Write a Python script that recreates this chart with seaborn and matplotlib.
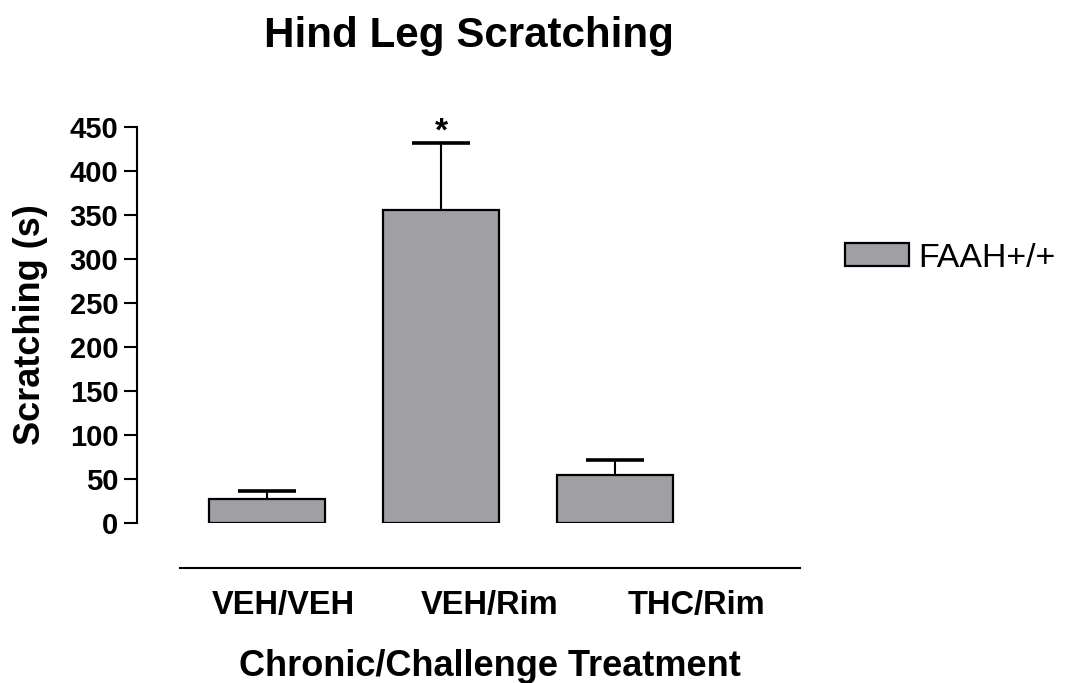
import matplotlib
matplotlib.use("Agg")
import matplotlib.pyplot as plt
import seaborn as sns
import pandas as pd

# ---- data ----
categories = ["VEH/VEH", "VEH/Rim", "THC/Rim"]
means = [27.5, 355.5, 54.8]
sem = [9.5, 75.7, 16.7]
genotype = "FAAH+/+"
y_ticks = [0, 50, 100, 150, 200, 250, 300, 350, 400, 450]

title = "Hind Leg Scratching"
xlabel = "Chronic/Challenge Treatment"
ylabel = "Scratching (s)"

sns.set_style("white")
plt.rcParams['font.family'] = ['Liberation Sans', 'DejaVu Sans']
plt.rcParams['font.weight'] = 'bold'
for k in ['text.color', 'axes.labelcolor', 'xtick.color', 'ytick.color']:
    plt.rcParams[k] = 'black'

W, H = 1069, 683
dpi = 100
fig = plt.figure(figsize=(W / dpi, H / dpi), dpi=dpi)
ax = fig.add_axes([180 / W, (H - 523.3) / H, 620 / W, (523.3 - 126.7) / H])

df = pd.DataFrame({"cat": categories, "val": means, "grp": [genotype] * len(categories)})
bar_color = "#A09FA4"
sns.barplot(data=df, x="cat", y="val", hue="grp", palette=[bar_color], dodge=False,
            width=0.667, edgecolor="black", linewidth=1.6, errorbar=None, ax=ax,
            saturation=1, zorder=2)

xs = list(range(len(categories)))
eb = ax.errorbar(xs, means, yerr=[[0] * len(sem), sem], fmt="none", ecolor="black",
                 elinewidth=1.5, capsize=21, capthick=2.6, zorder=1)
# keep only the upper caps
eb[1][0].remove()

# significance star
ax.annotate("*", xy=(1, means[1] + sem[1]), xytext=(0, 2), textcoords="offset points",
            ha="center", va="baseline", fontsize=24, fontweight="bold")

x0, x1 = -0.5, -0.5 + 620 / 174
ax.set_xlim(x0, x1)
ax.set_ylim(0, 450)
ax.set_yticks(y_ticks)
ax.set_yticklabels([str(t) for t in y_ticks])
# Prism-style: category labels centred in equal thirds of the x-axis line
n = len(categories)
seg = (x1 - x0) / n
ax.set_xticks([x0 + seg * (i + 0.5) for i in range(n)])
ax.set_xticklabels(categories)

for s in ["top", "right"]:
    ax.spines[s].set_visible(False)
ax.spines["left"].set_position(("outward", 43 * 0.72))
ax.spines["bottom"].set_position(("outward", 44.7 * 0.72))
for s in ["left", "bottom"]:
    ax.spines[s].set_linewidth(1.5)
    ax.spines[s].set_color("black")

ax.tick_params(axis="y", which="both", left=True, length=9.4, width=1.5, pad=4,
               color="black", labelsize=21)
ax.tick_params(axis="x", length=0, pad=16, labelsize=23.5)
for lab in ax.get_xticklabels() + ax.get_yticklabels():
    lab.set_fontweight("bold")

ax.set_xlabel(xlabel, fontsize=26, fontweight="bold")
ax.set_ylabel(ylabel, fontsize=26, fontweight="bold")
ax.xaxis.set_label_coords(0.5, -0.317)
ax.yaxis.set_label_coords(-0.213, 0.5)

fig.text(469 / W, 1 - 47 / H, title, ha="center", va="baseline", fontsize=30.3, fontweight="bold")

leg = ax.legend(loc="center left", bbox_to_anchor=(845 / W, 1 - 258 / H),
                bbox_transform=fig.transFigure, frameon=False,
                prop={"size": 24.4, "weight": "normal"},
                handlelength=1.9, handleheight=0.68, handletextpad=0.25,
                borderpad=0, borderaxespad=0)

fig.savefig("out.png", dpi=dpi)
